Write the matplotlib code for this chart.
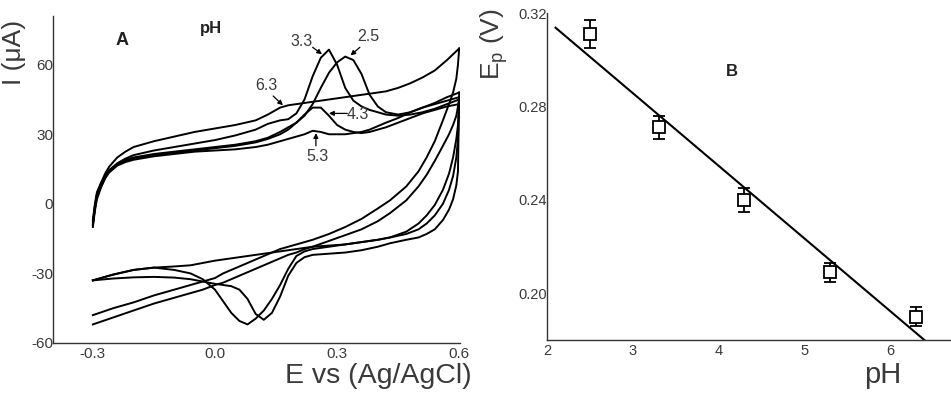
import matplotlib
matplotlib.use('Agg')
import matplotlib.pyplot as plt

plt.rcParams['font.family'] = ['Liberation Sans', 'DejaVu Sans']
plt.rcParams['mathtext.fontset'] = 'custom'
plt.rcParams['mathtext.rm'] = 'Liberation Sans'
plt.rcParams['mathtext.it'] = 'Liberation Sans'

# ---- panel A: cyclic voltammograms at several pH values ----
# anodic (forward) scan, potential in V
E_fwd = [-0.30, -0.295, -0.29, -0.28, -0.27, -0.26, -0.24, -0.22, -0.20, -0.15,
         -0.10, -0.05, 0.00, 0.05, 0.10, 0.13, 0.16, 0.18, 0.20, 0.22,
         0.24, 0.26, 0.28, 0.30, 0.32, 0.34, 0.36, 0.38, 0.40, 0.42,
         0.45, 0.48, 0.51, 0.54, 0.57, 0.60]
I_fwd_25 = [-10, -3, 2, 7, 11, 14, 17, 19, 20, 21.5,
            22.5, 23.5, 24.5, 25.5, 27, 28.5, 31, 33, 35, 38,
            43, 50, 56.5, 61, 63.5, 62, 56, 47, 42, 39.5,
            38.5, 39.5, 41.5, 43.5, 46, 48]
I_fwd_33 = [-8, -1, 4, 8.5, 12, 14.5, 17.5, 19.5, 21, 23,
            24.5, 26, 27.5, 29.5, 32, 34.5, 36, 36.5, 39, 45,
            55, 63, 66.5, 60, 50, 44.5, 42, 40.5, 39.5, 38.5,
            38, 38.5, 39.5, 41, 43, 45]
I_fwd_43 = [-7, 0, 5, 9, 12, 14.5, 17, 18.5, 19.5, 21,
            22, 23, 24, 25, 26.5, 28, 30, 32, 35, 38.5,
            41.5, 41.5, 38, 34, 32, 31, 30.5, 31, 32, 33,
            35, 37, 39, 40.5, 42, 43]
I_fwd_53 = [-9, -2, 3, 7.5, 11, 13.5, 16.5, 18, 19, 20.5,
            21.5, 22.5, 23, 23.5, 24.5, 25.5, 27, 28, 29, 30,
            31.5, 31, 30, 30, 30, 30.5, 31, 32, 33.5, 35,
            37, 39.5, 41.5, 43, 44.5, 46]
I_fwd_63 = [-9, -2, 4, 9, 13, 16, 20, 22.5, 24.5, 27,
            29, 31, 32.5, 34, 36, 38.5, 41.5, 42.5, 43, 43.5,
            44, 44.5, 45, 45.5, 46, 46.5, 47, 47.5, 48, 48.5,
            50, 52, 54.5, 57.5, 62, 67]

# cathodic (reverse) scan
E_rev = [0.60, 0.597, 0.593, 0.585, 0.575, 0.56, 0.54, 0.52, 0.50, 0.47,
         0.43, 0.40, 0.36, 0.32, 0.28, 0.24, 0.22, 0.20, 0.18, 0.16,
         0.14, 0.12, 0.10, 0.08, 0.06, 0.04, 0.02, 0.00, -0.03, -0.06,
         -0.10, -0.15, -0.20, -0.25, -0.30]
I_rev_25 = [48, 14, 8, 2, -2.5, -7, -11, -13, -14.5, -15.5,
            -17, -18.5, -20, -21, -21.5, -22, -23, -25.5, -31, -40,
            -47, -50, -47.5, -41, -37, -35.5, -35, -34.5, -33.5, -32.5,
            -31.8, -31.5, -31.7, -32.2, -33]
I_rev_33 = [45, 28, 20, 12, 6, 0, -5, -8.5, -11, -13,
            -14.5, -15.5, -16.5, -17.5, -18.5, -19.5, -20.5, -22.5, -28, -35,
            -41, -46, -49.5, -52, -50.5, -47, -42, -37, -32.5, -30,
            -28.5, -27.5, -28.5, -30.5, -33]
I_rev_43 = [43, 34, 28, 20, 13, 6, -0.5, -5, -8.5, -12,
            -14.5, -15.5, -16.5, -17.5, -18, -18.5, -19, -19.5, -20, -20.5,
            -21, -21.5, -22, -22.5, -23, -23.5, -24, -24.5, -25.5, -26.5,
            -27, -27.5, -28.5, -30.5, -33]
I_rev_53 = [46, 42, 38, 34, 30, 25, 18.5, 12.5, 7.5, 1.5,
            -4, -7.5, -11, -13.5, -16, -18.5, -19.5, -21, -22, -23.5,
            -25, -26.5, -28, -29.5, -31, -32.5, -34, -35, -37, -38.5,
            -40.5, -43, -46, -49, -52]
I_rev_63 = [67, 60, 54, 48, 43, 36, 27, 20, 14, 7.5,
            1.5, -2, -6.5, -10, -13, -15.5, -16.5, -17.5, -18.5, -19.5,
            -21, -22.5, -24, -25.5, -27, -28.5, -30, -32, -33.5, -35,
            -37, -39.5, -42.5, -45, -48]

# ---- panel B: peak potential vs pH ----
pH = [2.5, 3.3, 4.3, 5.3, 6.3]
Ep = [0.311, 0.271, 0.240, 0.209, 0.190]
Ep_err = [0.006, 0.005, 0.005, 0.004, 0.004]
fit_intercept = 0.379
fit_slope = -0.0311
fit_pH = [2.1, 6.42]

axis_col = '#333333'
text_col = '#3a3a3a'

fig = plt.figure(figsize=(9.51, 3.99), dpi=100)

# ----- panel A -----
ax = fig.add_axes([0.0557, 0.1404, 0.428, 0.8195])
fwd = [I_fwd_25, I_fwd_33, I_fwd_43, I_fwd_53, I_fwd_63]
rev = [I_rev_25, I_rev_33, I_rev_43, I_rev_53, I_rev_63]
for i_f, i_r in zip(fwd, rev):
    ax.plot(E_fwd, i_f, color='black', lw=1.4, solid_joinstyle='round')
    ax.plot(E_rev, i_r, color='black', lw=1.4, solid_joinstyle='round')

ax.set_xlim(-0.398, 0.602)
ax.set_ylim(-60, 81)
ax.set_xticks([-0.3, 0.0, 0.3, 0.6])
ax.set_xticklabels(['-0.3', '0.0', '0.3', '0.6'])
ax.set_yticks([-60, -30, 0, 30, 60])
ax.set_yticklabels(['-60', '-30', '0', '30', '60'])
for s in ['top', 'right']:
    ax.spines[s].set_visible(False)
for s in ['left', 'bottom']:
    ax.spines[s].set_color(axis_col)
    ax.spines[s].set_linewidth(1.0)
ax.tick_params(length=0, labelsize=11, labelcolor=text_col)
ax.tick_params(axis='y', pad=0)
ax.tick_params(axis='x', pad=3)

# peak labels with small arrows
arr = dict(arrowstyle='-|>', color='black', lw=0.9, mutation_scale=7,
           shrinkA=0, shrinkB=0)
ax.text(0.214, 70, '3.3', fontsize=11.5, ha='center', va='center', color=text_col)
ax.annotate('', xy=(0.263, 64.5), xytext=(0.240, 67.5), arrowprops=arr)
ax.text(0.376, 72, '2.5', fontsize=11.5, ha='center', va='center', color=text_col)
ax.annotate('', xy=(0.333, 64), xytext=(0.356, 67.5), arrowprops=arr)
ax.text(0.126, 51, '6.3', fontsize=11.5, ha='center', va='center', color=text_col)
ax.annotate('', xy=(0.167, 42.5), xytext=(0.143, 46.5), arrowprops=arr)
ax.text(0.352, 38.5, '4.3', fontsize=11.5, ha='center', va='center', color=text_col)
ax.annotate('', xy=(0.280, 39), xytext=(0.325, 39), arrowprops=arr)
ax.text(0.251, 20.5, '5.3', fontsize=11.5, ha='center', va='center', color=text_col)
ax.annotate('', xy=(0.248, 30.5), xytext=(0.248, 25), arrowprops=arr)

ax.text(-0.229, 70.5, 'A', fontsize=13, fontweight='bold', ha='center', va='center',
        color='#222222')
ax.text(-0.010, 75.5, 'pH', fontsize=12, fontweight='bold', ha='center', va='center',
        color='#222222')

fig.text(14 / 951, 1 - 52 / 399, 'I (\u03bcA)', rotation=90, fontsize=19,
         ha='center', va='center', color=text_col)
fig.text(378 / 951, 1 - 376 / 399, 'E vs (Ag/AgCl)', fontsize=20.5,
         ha='center', va='center', color=text_col)

# ----- panel B -----
bx = fig.add_axes([0.5752, 0.1479, 0.4248, 0.8195])
fit_E = [fit_intercept + fit_slope * p for p in fit_pH]
bx.plot(fit_pH, fit_E, color='black', lw=1.5)
bx.errorbar(pH, Ep, yerr=Ep_err, fmt='s', ms=8, mfc='white', mec='black',
            mew=1.3, ecolor='black', elinewidth=1.3, capsize=4, capthick=1.3)

bx.set_xlim(2, 6.71)
bx.set_ylim(0.18, 0.32)
bx.set_xticks([2, 3, 4, 5, 6])
bx.set_yticks([0.20, 0.24, 0.28, 0.32])
bx.set_yticklabels(['0.20', '0.24', '0.28', '0.32'])
for s in ['top', 'right']:
    bx.spines[s].set_visible(False)
for s in ['left', 'bottom']:
    bx.spines[s].set_color(axis_col)
    bx.spines[s].set_linewidth(1.0)
bx.tick_params(length=0, labelsize=10.5, labelcolor=text_col)
bx.tick_params(axis='y', pad=0)
bx.tick_params(axis='x', pad=3)

bx.text(732 / 951, 1 - 71 / 399, 'B', transform=fig.transFigure, fontsize=12,
        fontweight='bold', ha='center', va='center', color='#222222')
fig.text(494 / 951, 1 - 44 / 399, 'E$_\\mathregular{p}$ (V)', rotation=90,
         fontsize=19, ha='center', va='center', color=text_col)
fig.text(883 / 951, 1 - 375 / 399, 'pH', fontsize=21, ha='center', va='center',
         color=text_col)

fig.savefig('out.png', dpi=100)
